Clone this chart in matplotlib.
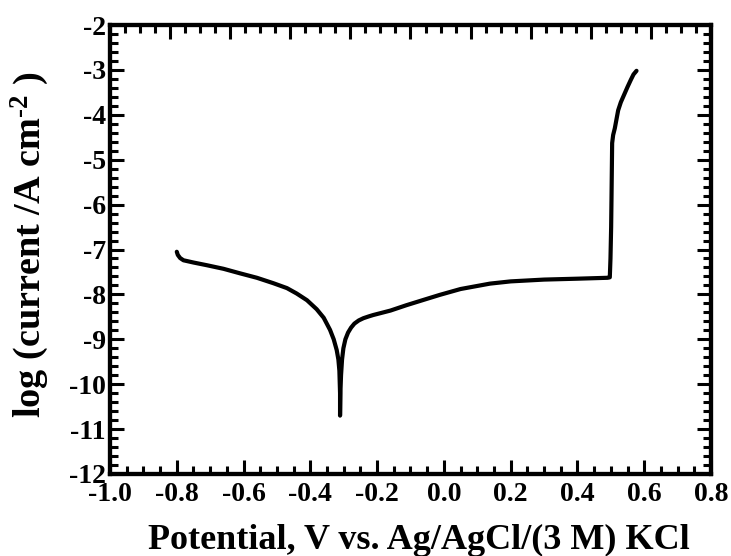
import matplotlib
matplotlib.use("Agg")
import matplotlib.pyplot as plt
from matplotlib.ticker import MultipleLocator

# data (potential V, log current)
potential = [-0.800, -0.797, -0.790, -0.780, -0.75, -0.71, -0.66, -0.611, -0.56, -0.511,
             -0.47, -0.441, -0.41, -0.381, -0.36, -0.341, -0.330, -0.321, -0.316,
             -0.313, -0.311, -0.311,
             -0.310, -0.308, -0.305, -0.301, -0.295, -0.287, -0.278, -0.268, -0.255,
             -0.241, -0.225, -0.212,
             -0.16, -0.112, -0.06, -0.012, 0.05, 0.138, 0.2, 0.3, 0.4, 0.49, 0.497,
             0.499, 0.501, 0.502, 0.504, 0.507, 0.512, 0.517, 0.522, 0.530, 0.540,
             0.550, 0.560, 0.568, 0.577]
logi = [-7.05, -7.12, -7.19, -7.24, -7.29, -7.35, -7.43, -7.53, -7.63, -7.75,
        -7.86, -7.98, -8.13, -8.33, -8.52, -8.79, -9.00, -9.24, -9.45,
        -9.70, -10.2, -10.70,
        -10.2, -9.8, -9.45, -9.20, -9.00, -8.85, -8.74, -8.65, -8.58,
        -8.53, -8.49, -8.46,
        -8.36, -8.24, -8.12, -8.01, -7.88, -7.76, -7.71, -7.67, -7.65, -7.63, -7.62,
        -7.2, -6.5, -5.9, -4.63, -4.45, -4.30, -4.10, -3.90, -3.72, -3.55,
        -3.38, -3.22, -3.10, -3.02]

xticks = [-1.0, -0.8, -0.6, -0.4, -0.2, 0.0, 0.2, 0.4, 0.6, 0.8]
xticklabels = ["-1.0", "-0.8", "-0.6", "-0.4", "-0.2", "0.0", "0.2", "0.4", "0.6", "0.8"]
yticks = [-12, -11, -10, -9, -8, -7, -6, -5, -4, -3, -2]
yticklabels = [str(v) for v in yticks]

plt.rcParams['font.family'] = ['Liberation Serif', 'DejaVu Serif']
plt.rcParams['font.weight'] = 'bold'
plt.rcParams['mathtext.fontset'] = 'custom'
plt.rcParams['mathtext.rm'] = 'Liberation Serif:bold'
plt.rcParams['mathtext.bf'] = 'Liberation Serif:bold'
plt.rcParams['mathtext.it'] = 'Liberation Serif:bold'

fig = plt.figure(figsize=(7.31, 5.56), dpi=100)
ax = fig.add_axes([0.1505, 0.1475, 0.8221, 0.8075])

ax.plot(potential, logi, color='black', lw=3.0, solid_capstyle='round', solid_joinstyle='round')

ax.set_xlim(-1.0, 0.8)
ax.set_ylim(-12, -2)
ax.set_xticks(xticks)
ax.set_xticklabels(xticklabels)
ax.set_yticks(yticks)
ax.set_yticklabels(yticklabels)
ax.xaxis.set_minor_locator(MultipleLocator(0.05))
ax.yaxis.set_minor_locator(MultipleLocator(0.2))

for s in ax.spines.values():
    s.set_linewidth(3.0)

ax.tick_params(which='both', direction='in', bottom=True, left=True, right=True, top=False, width=2.2)
ax.tick_params(which='major', length=10)
ax.tick_params(which='minor', length=6)
ax.tick_params(axis='x', labelsize=20, pad=6)
ax.tick_params(axis='y', labelsize=20, pad=3)
for lab in ax.get_xticklabels() + ax.get_yticklabels():
    lab.set_fontweight('bold')

# independent top axis ticks (10 divisions, 4 minor intervals)
top = ax.twiny()
top.set_xlim(0, 10)
top.xaxis.set_major_locator(MultipleLocator(1))
top.xaxis.set_minor_locator(MultipleLocator(0.25))
top.tick_params(which='both', direction='in', top=True, bottom=False, labeltop=False, width=2.2)
top.tick_params(which='major', length=10)
top.tick_params(which='minor', length=6)
for s in top.spines.values():
    s.set_linewidth(3.0)

ax.set_xlabel('Potential, V vs. Ag/AgCl/(3 M) KCl', fontsize=26, fontweight='bold')
ax.xaxis.set_label_coords(0.514, -0.112)
ax.set_ylabel(r'log (current /A cm$^{\text{-2}}$ )', fontsize=27.5, fontweight='bold')
ax.yaxis.set_label_coords(-0.098, 0.512)

fig.savefig('out.png', dpi=100)
